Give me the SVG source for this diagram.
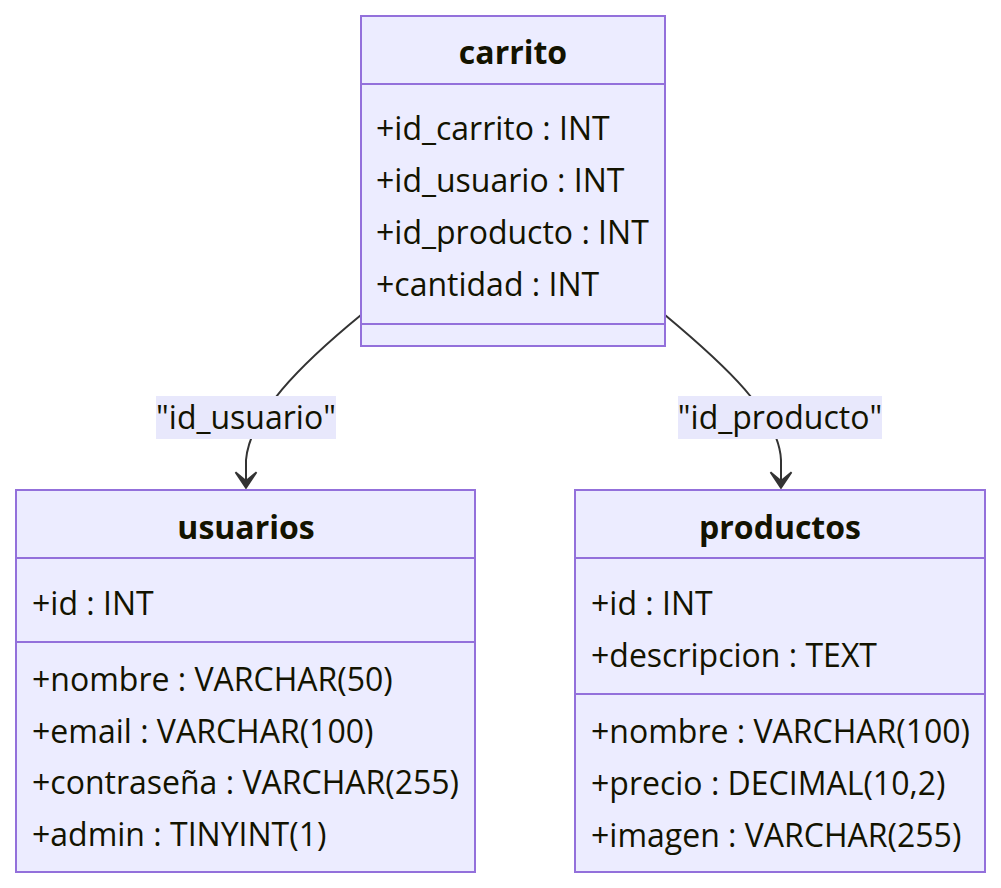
<svg xmlns="http://www.w3.org/2000/svg" width="1001" height="888" viewBox="0 0 1001 888">
<style>
.box{fill:#ECECFF;stroke:#9370DB;stroke-width:2}
.div{stroke:#9370DB;stroke-width:2}
.t{font-family:"Open Sans","Noto Sans",sans-serif;font-size:32px;fill:#131300}
.h{font-family:"Open Sans","Noto Sans",sans-serif;font-size:32px;font-weight:bold;fill:#131300;text-anchor:middle}
.edge{fill:none;stroke:#333333;stroke-width:2}
.lbg{fill:#E8E8FC}
</style>
<defs>
<marker id="dep" viewBox="0 0 20 14" refX="18" refY="7" markerWidth="35" markerHeight="24.5" markerUnits="userSpaceOnUse" orient="auto">
<path d="M 18,7 L9,13 L14,7 L9,1 Z" fill="#333333" stroke="#333333" stroke-width="1"/>
</marker>
</defs>
<g id="connectors">
<path class="edge" d="M361,315 C300,365 250,415 246,460 L246,488" marker-end="url(#dep)"/>
<path class="edge" d="M665,315 C725,365 779,415 781,460 L781,488" marker-end="url(#dep)"/>
<g id="label-id_usuario">
<rect class="lbg" x="156" y="396" width="180" height="43"/>
<text class="t" x="246" y="429" text-anchor="middle">"id_usuario"</text>
</g>
<g id="label-id_producto">
<rect class="lbg" x="678" y="396" width="204" height="43"/>
<text class="t" x="780" y="429" text-anchor="middle">"id_producto"</text>
</g>
</g>
<g id="carrito">
<rect class="box" x="361" y="16" width="304" height="330"/>
<line class="div" x1="361" y1="84" x2="665" y2="84"/>
<line class="div" x1="361" y1="324" x2="665" y2="324"/>
<text class="h" x="513" y="64">carrito</text>
<text class="t" x="376" y="140">+id_carrito : INT</text>
<text class="t" x="376" y="192">+id_usuario : INT</text>
<text class="t" x="376" y="244">+id_producto : INT</text>
<text class="t" x="376" y="296">+cantidad : INT</text>
</g>
<g id="usuarios">
<rect class="box" x="16" y="490" width="459" height="382"/>
<line class="div" x1="16" y1="558" x2="475" y2="558"/>
<line class="div" x1="16" y1="642" x2="475" y2="642"/>
<text class="h" x="246" y="539">usuarios</text>
<text class="t" x="32" y="615">+id : INT</text>
<text class="t" x="32" y="691">+nombre : VARCHAR(50)</text>
<text class="t" x="32" y="743">+email : VARCHAR(100)</text>
<text class="t" x="32" y="794">+contraseña : VARCHAR(255)</text>
<text class="t" x="32" y="846">+admin : TINYINT(1)</text>
</g>
<g id="productos">
<rect class="box" x="575" y="490" width="410" height="382"/>
<line class="div" x1="575" y1="558" x2="985" y2="558"/>
<line class="div" x1="575" y1="694" x2="985" y2="694"/>
<text class="h" x="780" y="539">productos</text>
<text class="t" x="591" y="615">+id : INT</text>
<text class="t" x="591" y="667">+descripcion : TEXT</text>
<text class="t" x="591" y="743">+nombre : VARCHAR(100)</text>
<text class="t" x="591" y="795">+precio : DECIMAL(10,2)</text>
<text class="t" x="591" y="847">+imagen : VARCHAR(255)</text>
</g>
</svg>
